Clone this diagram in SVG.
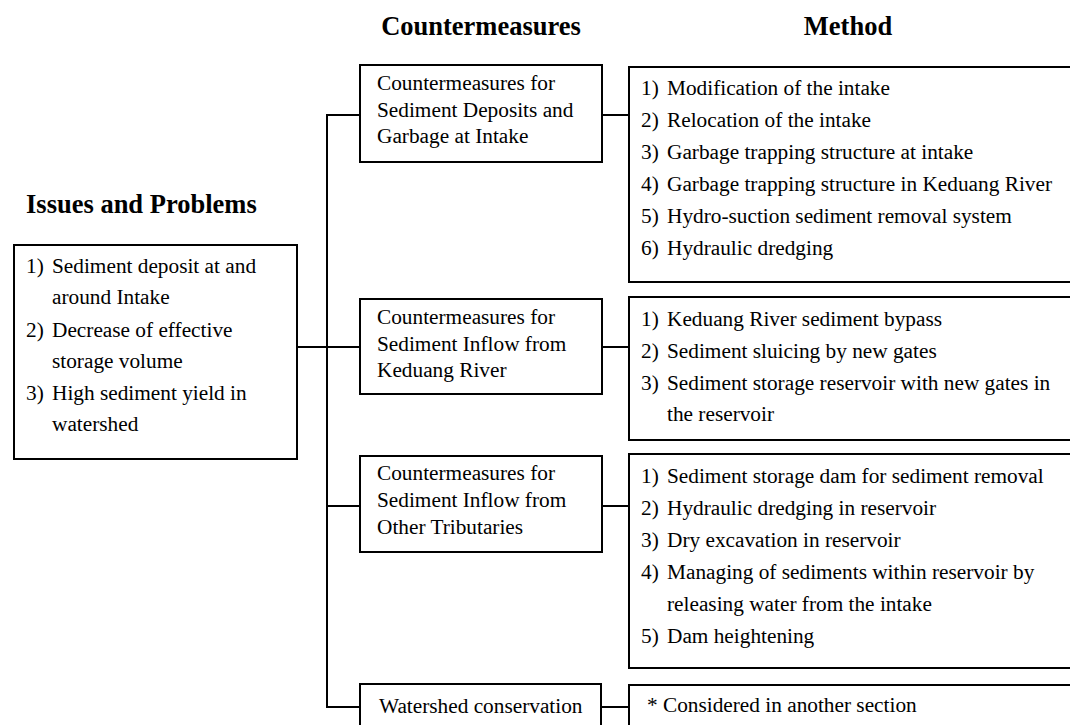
<svg xmlns="http://www.w3.org/2000/svg" width="1070" height="725" viewBox="0 0 1070 725">
<style>
.bg{fill:#fff}
.box{fill:#fff;stroke:#000;stroke-width:2}
.con{fill:none;stroke:#000;stroke-width:2}
.hd{font-family:"Liberation Serif","Times New Roman",serif;font-weight:bold;font-size:26.5px;fill:#000}
.tx{font-family:"Liberation Serif","Times New Roman",serif;font-size:21.3px;fill:#000}
</style>
<rect class="bg" x="0" y="0" width="1070" height="725"/>
<g id="headers">
<text class="hd" x="481" y="35" text-anchor="middle">Countermeasures</text>
<text class="hd" x="848" y="35" text-anchor="middle">Method</text>
<text class="hd" x="26" y="213">Issues and Problems</text>
</g>
<g id="connectors">
<polyline class="con" points="297,347 327,347"/>
<polyline class="con" points="360,115 327,115 327,707 360,707"/>
<line class="con" x1="327" y1="347" x2="360" y2="347"/>
<line class="con" x1="327" y1="506" x2="360" y2="506"/>
<line class="con" x1="602" y1="115" x2="629" y2="115"/>
<line class="con" x1="602" y1="347" x2="629" y2="347"/>
<line class="con" x1="602" y1="506" x2="629" y2="506"/>
<line class="con" x1="602" y1="707" x2="629" y2="707"/>
</g>
<g id="issues">
<rect class="box" x="14" y="245" width="283" height="214"/>
<text class="tx" x="26" y="273">1)</text><text class="tx" x="52" y="273">Sediment deposit at and</text>
<text class="tx" x="52" y="304">around Intake</text>
<text class="tx" x="26" y="337">2)</text><text class="tx" x="52" y="337">Decrease of effective</text>
<text class="tx" x="52" y="368">storage volume</text>
<text class="tx" x="26" y="400">3)</text><text class="tx" x="52" y="400">High sediment yield in</text>
<text class="tx" x="52" y="431">watershed</text>
</g>
<g id="cm1">
<rect class="box" x="360" y="65" width="242" height="97"/>
<text class="tx" x="377" y="90">Countermeasures for</text>
<text class="tx" x="377" y="117">Sediment Deposits and</text>
<text class="tx" x="377" y="143">Garbage at Intake</text>
</g>
<g id="cm2">
<rect class="box" x="360" y="299" width="242" height="95"/>
<text class="tx" x="377" y="324">Countermeasures for</text>
<text class="tx" x="377" y="351">Sediment Inflow from</text>
<text class="tx" x="377" y="377">Keduang River</text>
</g>
<g id="cm3">
<rect class="box" x="360" y="456" width="242" height="96"/>
<text class="tx" x="377" y="480">Countermeasures for</text>
<text class="tx" x="377" y="507">Sediment Inflow from</text>
<text class="tx" x="377" y="534">Other Tributaries</text>
</g>
<g id="cm4">
<rect class="box" x="360" y="684" width="241" height="60"/>
<text class="tx" x="379" y="713">Watershed conservation</text>
</g>
<g id="m1">
<rect class="box" x="629" y="67" width="460" height="215"/>
<text class="tx" x="641" y="95">1)</text><text class="tx" x="667" y="95">Modification of the intake</text>
<text class="tx" x="641" y="127">2)</text><text class="tx" x="667" y="127">Relocation of the intake</text>
<text class="tx" x="641" y="159">3)</text><text class="tx" x="667" y="159">Garbage trapping structure at intake</text>
<text class="tx" x="641" y="191">4)</text><text class="tx" x="667" y="191">Garbage trapping structure in Keduang River</text>
<text class="tx" x="641" y="223">5)</text><text class="tx" x="667" y="223">Hydro-suction sediment removal system</text>
<text class="tx" x="641" y="255">6)</text><text class="tx" x="667" y="255">Hydraulic dredging</text>
</g>
<g id="m2">
<rect class="box" x="629" y="297" width="460" height="143"/>
<text class="tx" x="641" y="326">1)</text><text class="tx" x="667" y="326">Keduang River sediment bypass</text>
<text class="tx" x="641" y="358">2)</text><text class="tx" x="667" y="358">Sediment sluicing by new gates</text>
<text class="tx" x="641" y="390">3)</text><text class="tx" x="667" y="390">Sediment storage reservoir with new gates in</text>
<text class="tx" x="667" y="421">the reservoir</text>
</g>
<g id="m3">
<rect class="box" x="629" y="454" width="460" height="214"/>
<text class="tx" x="641" y="483">1)</text><text class="tx" x="667" y="483">Sediment storage dam for sediment removal</text>
<text class="tx" x="641" y="515">2)</text><text class="tx" x="667" y="515">Hydraulic dredging in reservoir</text>
<text class="tx" x="641" y="547">3)</text><text class="tx" x="667" y="547">Dry excavation in reservoir</text>
<text class="tx" x="641" y="579">4)</text><text class="tx" x="667" y="579">Managing of sediments within reservoir by</text>
<text class="tx" x="667" y="611">releasing water from the intake</text>
<text class="tx" x="641" y="643">5)</text><text class="tx" x="667" y="643">Dam heightening</text>
</g>
<g id="m4">
<rect class="box" x="629" y="685" width="460" height="60"/>
<text class="tx" x="647" y="712">* Considered in another section</text>
</g>
</svg>
